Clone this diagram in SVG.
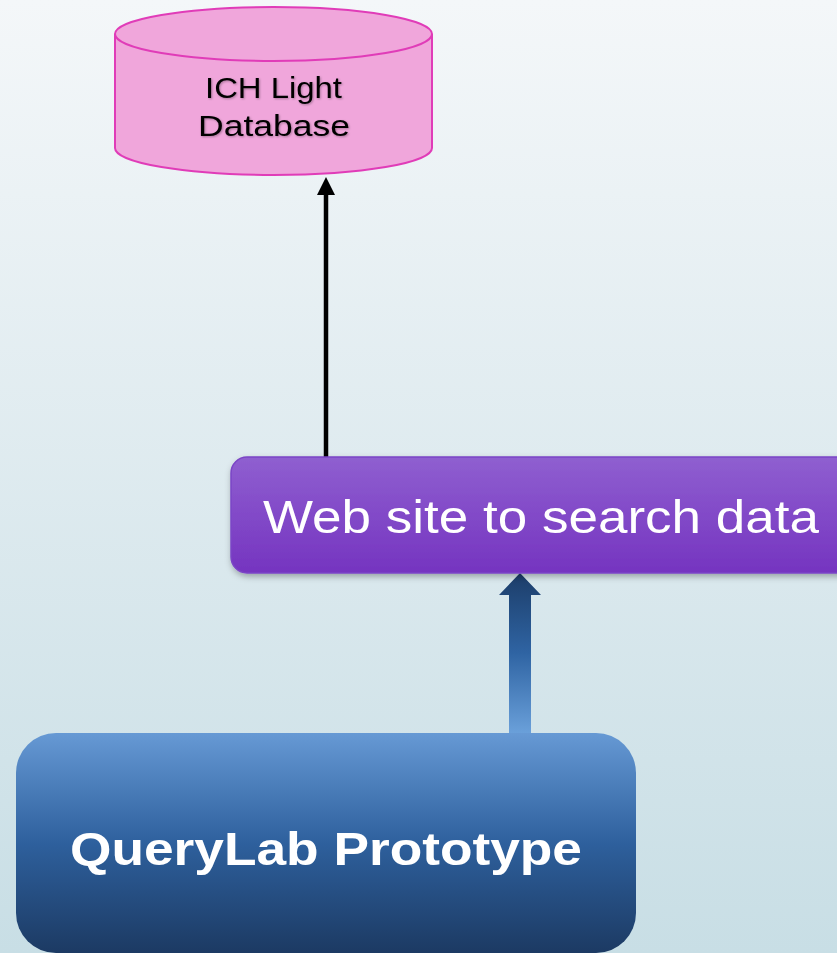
<svg xmlns="http://www.w3.org/2000/svg" width="837" height="953" viewBox="0 0 837 953">
<defs>
<linearGradient id="bg" x1="0" y1="0" x2="0" y2="1"><stop offset="0" stop-color="#f4f7f9"/><stop offset="1" stop-color="#c8dee5"/></linearGradient>
<linearGradient id="purple" x1="0" y1="0" x2="0" y2="1"><stop offset="0" stop-color="#8f5fd0"/><stop offset="1" stop-color="#7534c0"/></linearGradient>
<linearGradient id="blue" x1="0" y1="0" x2="0" y2="1"><stop offset="0" stop-color="#6699d4"/><stop offset="0.5" stop-color="#2e609d"/><stop offset="1" stop-color="#1c3a63"/></linearGradient>
<linearGradient id="barrow" x1="0" y1="0" x2="0" y2="1"><stop offset="0" stop-color="#1c3d69"/><stop offset="0.5" stop-color="#2f64a3"/><stop offset="1" stop-color="#6aa0da"/></linearGradient>
<filter id="sh" x="-10%" y="-10%" width="120%" height="130%"><feDropShadow dx="1" dy="3" stdDeviation="3" flood-color="#000" flood-opacity="0.3"/></filter>
<filter id="tsh"><feDropShadow dx="1" dy="1" stdDeviation="1" flood-color="#000" flood-opacity="0.3"/></filter>
<marker id="ah" markerWidth="4" markerHeight="4" refX="2" refY="2" orient="auto" markerUnits="strokeWidth"><path d="M0,0 L4,2 L0,4 Z" fill="#000"/></marker>
</defs>
<style>
.cyl{fill:#f0a6db;stroke:#e03cb8;stroke-width:2}
.t{font-family:"Liberation Sans",Arial,sans-serif}
</style>
<rect width="837" height="953" fill="url(#bg)"/>
<g id="connectors">
<line x1="326" y1="460" x2="326" y2="186" stroke="#000" stroke-width="4.5" marker-end="url(#ah)"/>
<path d="M509,733 L509,595 L499,595 L520,573 L541,595 L531,595 L531,733 Z" fill="url(#barrow)"/>
</g>
<g id="db">
<path class="cyl" d="M115,34 L115,148 A158.5,27 0 0 0 432,148 L432,34"/>
<ellipse class="cyl" cx="273.5" cy="34" rx="158.5" ry="27"/>
<g class="t" font-size="30" fill="#000" filter="url(#tsh)">
<text x="205" y="98" textLength="137" lengthAdjust="spacingAndGlyphs">ICH Light</text>
<text x="198" y="136" textLength="152" lengthAdjust="spacingAndGlyphs">Database</text>
</g>
</g>
<g id="web">
<rect x="231" y="457" width="640" height="116" rx="16" fill="url(#purple)" stroke="#7b45c6" stroke-width="1.5" filter="url(#sh)"/>
<text class="t" x="263" y="533" font-size="46" fill="#fff" textLength="556" lengthAdjust="spacingAndGlyphs">Web site to search data</text>
</g>
<g id="querylab">
<rect x="16" y="733" width="620" height="220" rx="40" fill="url(#blue)"/>
<text class="t" x="326" y="865" font-size="46" font-weight="bold" fill="#fff" text-anchor="middle" textLength="512" lengthAdjust="spacingAndGlyphs">QueryLab Prototype</text>
</g>
</svg>
